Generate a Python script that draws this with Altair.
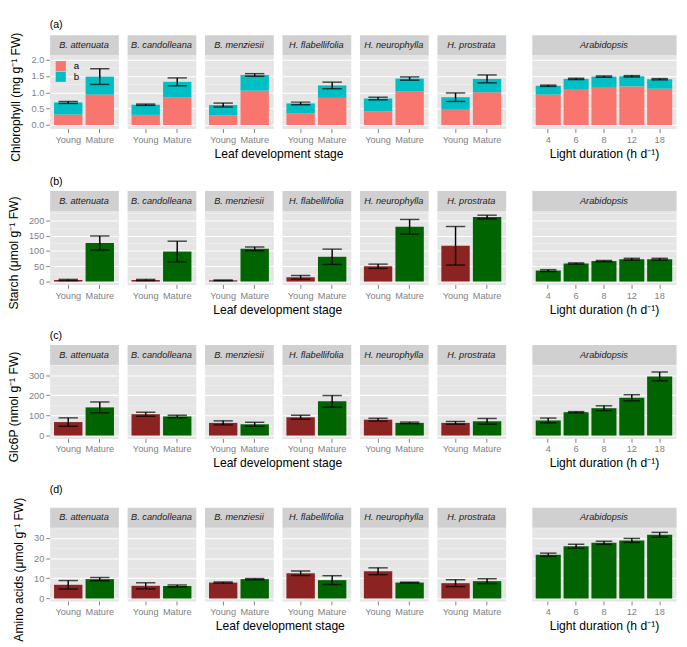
import altair as alt
import pandas as pd

# ---------------- data ----------------
species = ["B. attenuata", "B. candolleana", "B. menziesii",
           "H. flabellifolia", "H. neurophylla", "H. prostrata"]
stages = ["Young", "Mature"]
light = ["4", "6", "8", "12", "18"]

# Chlorophyll: a part and total (a+b), error on total
chl_a_sp = [[0.32, 0.93], [0.31, 0.85], [0.30, 1.05], [0.35, 0.83], [0.42, 1.03], [0.49, 1.00]]
chl_tot_sp = [[0.69, 1.48], [0.62, 1.32], [0.61, 1.53], [0.66, 1.21], [0.81, 1.42], [0.85, 1.41]]
chl_err_sp = [[0.03, 0.24], [0.02, 0.12], [0.06, 0.04], [0.04, 0.10], [0.04, 0.05], [0.13, 0.12]]
chl_a_ar = [0.93, 1.10, 1.16, 1.18, 1.11]
chl_tot_ar = [1.20, 1.41, 1.48, 1.49, 1.40]
chl_err_ar = [0.02, 0.02, 0.02, 0.02, 0.02]

# Starch
starch_sp = [[5, 126], [5, 98], [4, 107], [14, 81], [50, 179], [117, 211]]
starch_err_sp = [[2, 23], [2, 34], [1, 6], [6, 25], [7, 24], [63, 6]]
starch_ar = [36, 59, 67, 73, 73]
starch_err_ar = [3, 2, 2, 3, 3]

# Glc6P
g6p_sp = [[67, 140], [106, 95], [63, 56], [91, 170], [79, 63], [63, 71]]
g6p_err_sp = [[21, 27], [10, 6], [10, 10], [10, 29], [7, 4], [7, 14]]
g6p_ar = [75, 116, 136, 188, 294]
g6p_err_ar = [12, 3, 12, 15, 22]

# Amino acids
aa_sp = [[6.8, 9.6], [6.3, 6.2], [7.9, 9.6], [12.5, 9.1], [13.5, 7.9], [7.6, 8.6]]
aa_err_sp = [[2.1, 0.8], [1.5, 0.5], [0.3, 0.3], [1.1, 2.2], [1.7, 0.2], [1.7, 1.2]]
aa_ar = [21.7, 25.9, 27.6, 28.8, 31.6]
aa_err_ar = [0.8, 1.0, 0.8, 1.0, 1.2]

# axis ticks (major labelled, minor grid only)
chl_major = [0, 0.5, 1.0, 1.5, 2.0]
chl_minor = [0.25, 0.75, 1.25, 1.75]
starch_major = [0, 50, 100, 150, 200]
starch_minor = [25, 75, 125, 175, 225]
g6p_major = [0, 100, 200, 300]
g6p_minor = [50, 150, 250, 350]
aa_major = [0, 10, 20, 30]
aa_minor = [5, 15, 25, 35]

# ---------------- style ----------------
FONT = "Liberation Sans"
PANEL_BG = "#E5E5E5"
STRIP_BG = "#D0D0D0"
MINOR = "#F2F2F2"
GREY = "#7F7F7F"
RED = "#8B2323"
GREEN = "#006400"
SALMON = "#F8766D"
CYAN = "#00BFC4"
PW, AW, PH, SH = 71, 149, 76, 21

pig_scale = alt.Scale(domain=["a", "b"], range=[SALMON, CYAN])
pig_legend = alt.Legend(title=None, orient="none", legendX=6, legendY=SH + 6,
                        symbolType="square", symbolSize=110, symbolStrokeWidth=0,
                        labelFontSize=10, labelFont=FONT, rowPadding=0,
                        symbolOpacity=1, labelOffset=8, padding=0)


def major_axis(ticks, fmt, first):
    common = dict(values=ticks, domain=False, grid=True, gridColor="white", gridWidth=1.1)
    if first:
        return alt.Axis(format=fmt, title=None, tickColor=GREY, tickSize=4,
                        labelColor=GREY, labelFontSize=9.5, labelFont=FONT,
                        labelPadding=2, labelOverlap=False, **common)
    return alt.Axis(labels=False, ticks=False, title=None, **common)


def minor_axis(ticks):
    return alt.Axis(values=ticks, labels=False, ticks=False, domain=False, title=None,
                    grid=True, gridColor=MINOR, gridWidth=0.6, orient="left")


def xaxis(title):
    kw = dict(labelAngle=0, labelColor=GREY, labelFontSize=9.5, labelFont=FONT,
              tickColor=GREY, tickSize=4, domain=False, gridColor="white", gridWidth=1.1,
              labelPadding=2)
    if title:
        return alt.Axis(title=title, titleFontSize=12.5, titleFontWeight="normal",
                        titleColor="black", titleFont=FONT, titlePadding=4, **kw)
    return alt.Axis(title=None, **kw)


def strip(label, width):
    return alt.Chart(pd.DataFrame({"label": [label]})).mark_text(
        fontStyle="italic", fontSize=9.5, font=FONT, color="#1A1A1A"
    ).encode(text="label:N").properties(
        width=width, height=SH, view=alt.ViewBackground(fill=STRIP_BG, stroke="transparent"))


def panel(df, xfield, xdomain, width, ydom, major, minor, fmt, first,
          xtitle, stacked, capsize):
    x = alt.X(f"{xfield}:N", sort=xdomain,
              scale=alt.Scale(domain=xdomain, paddingInner=0.1, paddingOuter=0.14),
              axis=xaxis(xtitle))
    ysc = alt.Scale(domain=ydom, nice=False, zero=False)
    base = alt.Chart(df)
    if stacked:
        bars = base.mark_bar().encode(
            x=x, y=alt.Y("lo:Q", scale=ysc, axis=major_axis(major, fmt, first)), y2="hi:Q",
            color=alt.Color("pigment:N", scale=pig_scale, legend=pig_legend))
        ebase = alt.Chart(df[df.pigment == "b"])
    else:
        bars = base.mark_bar().encode(
            x=x, y=alt.Y("value:Q", scale=ysc, axis=major_axis(major, fmt, first)),
            color=alt.condition(alt.datum.stage == "Young", alt.value(RED), alt.value(GREEN)))
        ebase = base
    rule = ebase.mark_rule(color="black", strokeWidth=1.5).encode(
        x=x, y=alt.Y("elo:Q", scale=ysc, axis=minor_axis(minor)), y2="ehi:Q")
    t1 = ebase.mark_tick(color="black", thickness=1.5, size=capsize).encode(
        x=x, y=alt.Y("elo:Q", axis=None))
    t2 = ebase.mark_tick(color="black", thickness=1.5, size=capsize).encode(
        x=x, y=alt.Y("ehi:Q", axis=None))
    return alt.layer(bars, rule, t1, t2).resolve_axis(y="independent").properties(
        width=width, height=PH, view=alt.ViewBackground(fill=PANEL_BG, stroke="transparent"))


def chl_df(a_vals, tot_vals, errs, cats, catname):
    rows = []
    for c, a, t, e in zip(cats, a_vals, tot_vals, errs):
        rows.append({catname: c, "pigment": "a", "lo": 0, "hi": a, "elo": t - e, "ehi": t + e})
        rows.append({catname: c, "pigment": "b", "lo": a, "hi": t, "elo": t - e, "ehi": t + e})
    return pd.DataFrame(rows)


def bar_df(vals, errs, cats, catname):
    return pd.DataFrame({catname: cats,
                         "stage": stages if catname == "stage" else ["Mature"] * len(cats),
                         "value": vals,
                         "elo": [v - e for v, e in zip(vals, errs)],
                         "ehi": [v + e for v, e in zip(vals, errs)]})


def make_row(tag, kind, sp_vals, sp_errs, ar_vals, ar_errs, ydom, major, minor, fmt, ytitle,
             sp_a=None, ar_a=None):
    panels = []
    for i, sp in enumerate(species):
        if kind == "chl":
            df = chl_df(sp_a[i], sp_vals[i], sp_errs[i], stages, "stage")
        else:
            df = bar_df(sp_vals[i], sp_errs[i], stages, "stage")
        p = panel(df, "stage", stages, PW, ydom, major, minor, fmt, i == 0,
                  None, kind == "chl", 20)
        panels.append(alt.vconcat(strip(sp, PW), p, spacing=0, bounds="flush"))
    sp_block = alt.hconcat(*panels, spacing=7).properties(
        title=alt.TitleParams("Leaf development stage", orient="bottom", anchor="middle",
                              frame="bounds", fontSize=12.5, fontWeight="normal", font=FONT,
                              offset=4, dx=11))
    if kind == "chl":
        adf = chl_df(ar_a, ar_vals, ar_errs, light, "light")
    else:
        adf = bar_df(ar_vals, ar_errs, light, "light")
    ap = panel(adf, "light", light, AW, ydom, major, minor, fmt, False,
               "Light duration (h d\u207b\u00b9)", kind == "chl", 17)
    ar_block = alt.vconcat(strip("Arabidopsis", AW), ap, spacing=0, bounds="flush")
    inner = alt.hconcat(sp_block, ar_block, spacing=25).properties(
        title=alt.TitleParams(ytitle, orient="left", anchor="middle", frame="bounds",
                              fontSize=12.5, fontWeight="normal", font=FONT, offset=8))
    return alt.vconcat(inner).properties(
        title=alt.TitleParams(tag, anchor="start", frame="group", fontSize=11,
                              fontWeight="normal", font=FONT, offset=3))


row_a = make_row("(a)", "chl", chl_tot_sp, chl_err_sp, chl_tot_ar, chl_err_ar,
                 [-0.11, 2.14], chl_major, chl_minor, ".1f",
                 "Chlorophyll (mg g\u207b\u00b9 FW)", sp_a=chl_a_sp, ar_a=chl_a_ar)
row_b = make_row("(b)", "simple", starch_sp, starch_err_sp, starch_ar, starch_err_ar,
                 [-9.6, 231], starch_major, starch_minor, "d",
                 "Starch (\u03bcmol g\u207b\u00b9 FW)")
row_c = make_row("(c)", "simple", g6p_sp, g6p_err_sp, g6p_ar, g6p_err_ar,
                 [-14.4, 351.5], g6p_major, g6p_minor, "d",
                 "Glc6P (nmol g\u207b\u00b9 FW)")
row_d = make_row("(d)", "simple", aa_sp, aa_err_sp, aa_ar, aa_err_ar,
                 [-1.3, 35.2], aa_major, aa_minor, "d",
                 "Amino acids (\u03bcmol g\u207b\u00b9 FW)")

chart = alt.vconcat(row_a, row_b, row_c, row_d, spacing=14).properties(
    padding={"left": 0, "top": 0, "right": 2, "bottom": 0}, background="white"
).configure_concat(spacing=7).configure_text(font=FONT)

chart.save("out.html", embed_options={"renderer": "svg", "actions": False})
